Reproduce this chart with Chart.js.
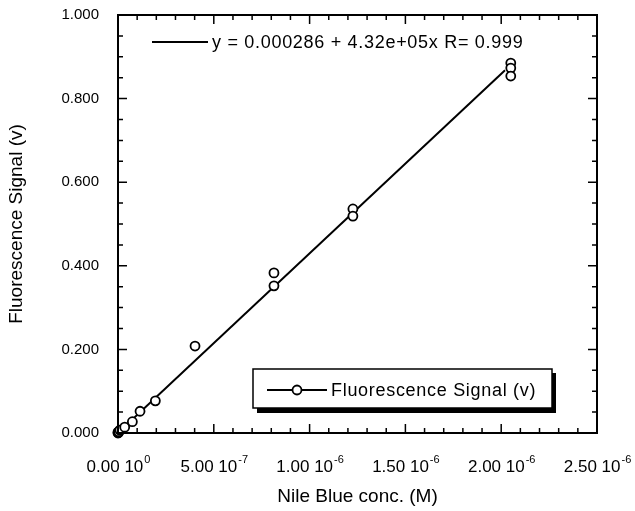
<!DOCTYPE html>
<html>
<head>
<meta charset="utf-8">
<script src="https://cdn.jsdelivr.net/npm/chart.js@4.4.0/dist/chart.umd.min.js"></script>
<style>
  html, body { margin: 0; padding: 0; background: #fff; }
</style>
</head>
<body>
<canvas id="my-chart" width="635" height="511"></canvas>
<script>
// measured points (Nile Blue conc. in M, signal in v)
const concX = [0, 0, 2e-9, 4e-9, 1e-8, 3.5e-8, 7.5e-8, 1.15e-7, 1.95e-7, 4.02e-7, 8.14e-7, 8.14e-7, 1.226e-6, 1.226e-6, 2.05e-6, 2.05e-6, 2.05e-6];
const signalY = [0, 0.002, 0.001, 0.003, 0.007, 0.014, 0.027, 0.052, 0.077, 0.208, 0.383, 0.352, 0.536, 0.519, 0.885, 0.873, 0.854];

// fitted line ends
const fitX = [0, 2.02e-6];
const fitY = [0.000286, 0.868];

const fitLabel = 'y = 0.000286 + 4.32e+05x R= 0.999';
const seriesLabel = 'Fluorescence Signal (v)';

const xTicks = [0, 5e-7, 1e-6, 1.5e-6, 2e-6, 2.5e-6];
const xTickText = ['0.00', '5.00', '1.00', '1.50', '2.00', '2.50'];
const xTickExp = ['0', '-7', '-6', '-6', '-6', '-6'];
const xMinor = [1e-7, 2e-7, 3e-7, 4e-7, 6e-7, 7e-7, 8e-7, 9e-7, 1.1e-6, 1.2e-6, 1.3e-6, 1.4e-6,
  1.6e-6, 1.7e-6, 1.8e-6, 1.9e-6, 2.1e-6, 2.2e-6, 2.3e-6, 2.4e-6];

const yTicks = [0, 0.2, 0.4, 0.6, 0.8, 1.0];
const yTickText = ['0.000', '0.200', '0.400', '0.600', '0.800', '1.000'];
const yMinor = [0.05, 0.1, 0.15, 0.25, 0.3, 0.35, 0.45, 0.5, 0.55, 0.65, 0.7, 0.75, 0.85, 0.9, 0.95];

const FONT = "'Liberation Sans', Arial, Helvetica, sans-serif";
Chart.defaults.font.family = FONT;
Chart.defaults.color = '#000';

// frame, inward ticks, x labels with exponents, and both legends
const framePlugin = {
  id: 'frame',
  afterDraw(chart) {
    const ctx = chart.ctx;
    const { left, right, top, bottom } = chart.chartArea;
    const xs = chart.scales.x;
    const ys = chart.scales.y;
    ctx.save();
    ctx.strokeStyle = '#000';
    ctx.lineWidth = 2;
    ctx.strokeRect(left, top, right - left, bottom - top);

    ctx.lineWidth = 1.5;
    ctx.beginPath();
    const tick = (vals, len, horiz) => {
      vals.forEach((v) => {
        if (horiz) {
          const px = xs.getPixelForValue(v);
          ctx.moveTo(px, bottom); ctx.lineTo(px, bottom - len);
          ctx.moveTo(px, top); ctx.lineTo(px, top + len);
        } else {
          const py = ys.getPixelForValue(v);
          ctx.moveTo(left, py); ctx.lineTo(left + len, py);
          ctx.moveTo(right, py); ctx.lineTo(right - len, py);
        }
      });
    };
    tick(xTicks, 9, true);
    tick(xMinor, 5, true);
    tick(yTicks, 9, false);
    tick(yMinor, 5, false);
    ctx.stroke();

    // x tick labels: mantissa + 10^exp
    ctx.fillStyle = '#000';
    ctx.textBaseline = 'alphabetic';
    ctx.textAlign = 'left';
    xTicks.forEach((v, i) => {
      const main = xTickText[i] + ' 10';
      ctx.font = '17px ' + FONT;
      const w1 = ctx.measureText(main).width;
      ctx.font = '11px ' + FONT;
      const w2 = ctx.measureText(xTickExp[i]).width;
      const x0 = xs.getPixelForValue(v) - (w1 + w2) / 2;
      ctx.font = '17px ' + FONT;
      ctx.fillText(main, x0, 472);
      ctx.font = '11px ' + FONT;
      ctx.fillText(xTickExp[i], x0 + w1 + 1, 463);
    });

    // top legend (fit line)
    ctx.lineWidth = 2;
    ctx.beginPath();
    ctx.moveTo(152, 42); ctx.lineTo(208, 42);
    ctx.stroke();
    ctx.font = '18px ' + FONT;
    ctx.letterSpacing = '0.7px';
    ctx.textBaseline = 'middle';
    ctx.fillText(chart.data.datasets[1].label, 212, 43);

    // boxed legend with drop shadow
    ctx.fillRect(257, 373, 299, 40);
    ctx.fillStyle = '#fff';
    ctx.fillRect(253, 369, 299, 39);
    ctx.lineWidth = 1.5;
    ctx.strokeRect(253, 369, 299, 39);
    ctx.beginPath();
    ctx.lineWidth = 2;
    ctx.moveTo(267, 390); ctx.lineTo(327, 390);
    ctx.stroke();
    ctx.beginPath();
    ctx.arc(297, 390, 4.5, 0, Math.PI * 2);
    ctx.fill();
    ctx.lineWidth = 1.8;
    ctx.stroke();
    ctx.fillStyle = '#000';
    ctx.font = '18px ' + FONT;
    ctx.fillText(chart.data.datasets[0].label, 331, 391);
    ctx.restore();
  },
};

const points = concX.map((x, i) => ({ x, y: signalY[i] }));
const fit = fitX.map((x, i) => ({ x, y: fitY[i] }));

const ctx = document.getElementById('my-chart').getContext('2d');
const myChart = new Chart(ctx, {
  type: 'scatter',
  data: {
    datasets: [
      {
        label: seriesLabel,
        data: points,
        pointRadius: 4.5,
        // the stacked points at the origin print as a solid blob
        pointBackgroundColor: (c) => (c.dataIndex < 2 ? '#000' : '#fff'),
        pointBorderColor: '#000',
        pointBorderWidth: 1.8,
        clip: false,
        order: 0,
      },
      {
        label: fitLabel,
        data: fit,
        showLine: true,
        borderColor: '#000',
        borderWidth: 2,
        pointRadius: 0,
        order: 1,
      },
    ],
  },
  options: {
    responsive: false,
    animation: false,
    layout: { padding: { left: 0, top: 15, right: 38, bottom: 0 } },
    plugins: { legend: { display: false }, tooltip: { enabled: false } },
    scales: {
      x: {
        type: 'linear',
        min: 0,
        max: 2.5e-6,
        afterBuildTicks: (s) => { s.ticks = xTicks.map((value) => ({ value })); },
        afterFit: (s) => { s.height = 78; s.paddingLeft = 0; s.paddingRight = 0; },
        ticks: { display: false },
        grid: { display: false },
        border: { display: false },
        title: {
          display: true,
          text: 'Nile Blue conc. (M)',
          font: { size: 19 },
          padding: { top: 0, bottom: 3 },
        },
      },
      y: {
        type: 'linear',
        min: 0,
        max: 1,
        afterBuildTicks: (s) => { s.ticks = yTicks.map((value) => ({ value })); },
        afterFit: (s) => { s.width = 118; s.paddingTop = 0; s.paddingBottom = 0; },
        ticks: {
          font: { size: 15 },
          padding: 19,
          callback: (v, i) => yTickText[i],
        },
        grid: { display: false, drawTicks: false },
        border: { display: false },
        title: {
          display: true,
          text: seriesLabel,
          font: { size: 19 },
          padding: { top: 5, bottom: 0 },
        },
      },
    },
  },
  plugins: [framePlugin],
});
</script>
</body>
</html>
